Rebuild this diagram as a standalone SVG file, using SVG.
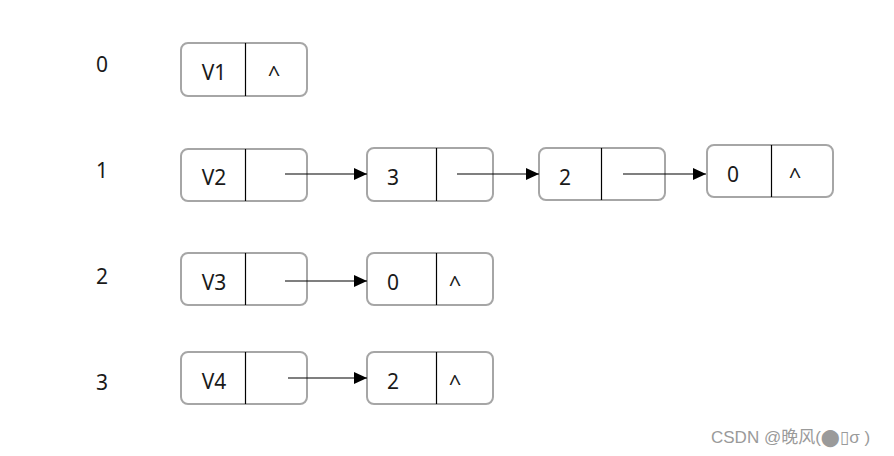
<svg xmlns="http://www.w3.org/2000/svg" width="894" height="456" viewBox="0 0 894 456">
<defs>
<marker id="ah" markerWidth="14" markerHeight="12" refX="13" refY="6" orient="auto" markerUnits="userSpaceOnUse">
<path d="M0,0 L13,6 L0,12 Z" fill="#000"/>
</marker>
<style>
.box{fill:#fff;stroke:#a6a6a6;stroke-width:2}
.div{stroke:#000;stroke-width:1.2}
.t{font-family:"Noto Sans","Liberation Sans",sans-serif;font-size:21px;fill:#1a1a1a;text-anchor:middle;dominant-baseline:central}
.c{font-family:"Noto Sans","Liberation Sans",sans-serif;font-size:22px;fill:#1a1a1a;text-anchor:middle;dominant-baseline:central}
.e{stroke:#000;stroke-width:1.2;fill:none;marker-end:url(#ah)}
.wm{font-family:"Liberation Sans","DejaVu Sans","Noto Sans CJK SC",sans-serif;font-size:17px;fill:#9a9a9a}
</style>
</defs>
<rect width="894" height="456" fill="#fff"/>
<g id="indices">
<text class="t" x="102" y="64">0</text>
<text class="t" x="102" y="170">1</text>
<text class="t" x="102" y="276">2</text>
<text class="t" x="102" y="382">3</text>
</g>
<g id="n-v1">
<rect class="box" x="181" y="43" width="126" height="53" rx="7"/>
<line class="div" x1="245.5" y1="43" x2="245.5" y2="96"/>
<text class="t" x="214" y="72">V1</text>
<text class="c" x="274" y="73">^</text>
</g>
<g id="n-v2">
<rect class="box" x="181" y="149" width="126" height="52" rx="7"/>
<line class="div" x1="245.5" y1="149" x2="245.5" y2="201"/>
<text class="t" x="214" y="177">V2</text>
</g>
<g id="n-v2-3">
<rect class="box" x="367" y="148" width="126" height="53" rx="7"/>
<line class="div" x1="436.5" y1="148" x2="436.5" y2="201"/>
<text class="t" x="393" y="177">3</text>
</g>
<g id="n-v2-2">
<rect class="box" x="539" y="148" width="126" height="52" rx="7"/>
<line class="div" x1="601.5" y1="148" x2="601.5" y2="200"/>
<text class="t" x="565" y="177">2</text>
</g>
<g id="n-v2-0">
<rect class="box" x="707" y="145" width="126" height="52" rx="7"/>
<line class="div" x1="771.5" y1="145" x2="771.5" y2="197"/>
<text class="t" x="733" y="174">0</text>
<text class="c" x="795" y="175">^</text>
</g>
<g id="n-v3">
<rect class="box" x="181" y="253" width="126" height="52" rx="7"/>
<line class="div" x1="245.5" y1="253" x2="245.5" y2="305"/>
<text class="t" x="214" y="282">V3</text>
</g>
<g id="n-v3-0">
<rect class="box" x="367" y="253" width="126" height="52" rx="7"/>
<line class="div" x1="436.5" y1="253" x2="436.5" y2="305"/>
<text class="t" x="393" y="282">0</text>
<text class="c" x="455" y="283">^</text>
</g>
<g id="n-v4">
<rect class="box" x="181" y="352" width="126" height="52" rx="7"/>
<line class="div" x1="245.5" y1="352" x2="245.5" y2="404"/>
<text class="t" x="214" y="381">V4</text>
</g>
<g id="n-v4-2">
<rect class="box" x="367" y="352" width="126" height="52" rx="7"/>
<line class="div" x1="436.5" y1="352" x2="436.5" y2="404"/>
<text class="t" x="393" y="381">2</text>
<text class="c" x="455" y="382">^</text>
</g>
<g id="connectors">
<line class="e" x1="285" y1="174" x2="367" y2="174"/>
<line class="e" x1="457" y1="174" x2="539" y2="174"/>
<line class="e" x1="623" y1="174" x2="706" y2="174"/>
<line class="e" x1="285" y1="281" x2="367" y2="281"/>
<line class="e" x1="288" y1="378" x2="367" y2="378"/>
</g>
<text class="wm" x="711" y="443">CSDN @晚风(⬤▯σ )</text>
</svg>
